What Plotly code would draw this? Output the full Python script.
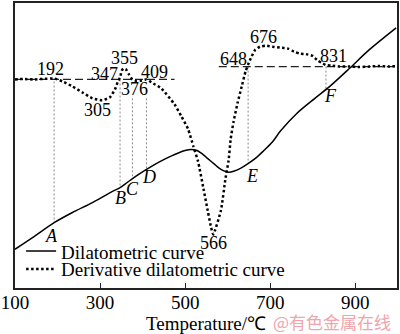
import numpy as np
import plotly.graph_objects as go

# Dilatometric curve: relative length change (arbitrary units) vs temperature (°C)
dil_temp = [100, 142, 193, 235, 282, 328, 347, 363, 382, 398, 421, 444, 468, 484,
            500, 514, 528, 537, 554, 568, 579, 591, 603, 614, 630, 647, 665, 684,
            705, 724, 763, 805, 840, 886, 933, 996]
dil_value = [39, 51, 66, 76, 86, 97, 101, 106, 112, 116.5, 122.5, 128, 133, 136,
             138.5, 139.5, 138.5, 136, 130, 125, 121, 118, 116.5, 117.5, 120.5, 125,
             130.5, 138, 147, 158, 176, 191, 203, 221, 240, 262]

# Derivative dilatometric curve (arbitrary units, offset)
der_temp = [100, 119, 142, 165, 192, 212, 235, 258, 282, 305, 323, 335, 342, 347,
            351, 355, 361, 368, 376, 386, 398, 409, 421, 444, 475, 491, 507, 519,
            530, 544, 553, 561, 566, 584, 595, 602, 607, 614, 623, 633, 642, 648,
            656, 665, 676, 689, 705, 724, 742, 756, 770, 784, 798, 812, 824, 831,
            845, 863, 886, 910, 933, 956, 979, 996]
der_value = [210, 210.5, 210, 210.5, 211, 208, 203, 197, 191, 189, 192, 200, 208, 212,
             219, 221, 220, 215, 210, 208.5, 209, 210, 207, 201, 185, 173, 160, 143,
             128, 98, 78, 61, 54, 78, 111, 128, 150, 168, 186, 203, 218, 225,
             233, 240, 243, 244, 243, 242, 241, 238, 236, 235.5, 234, 229, 226, 224.5,
             224, 223, 223, 222.5, 223, 223.5, 223, 223.5]

# Zero levels of the derivative curve
base_left_temp = [100, 475]
base_left_value = [210, 210]
base_right_temp = [579, 998]
base_right_value = [223, 223]

# Characteristic points on the dilatometric curve
point_temp = [192, 347, 376, 409, 648, 831]
point_name = ["A", "B", "C", "D", "E", "F"]
guide_top = [208, 210, 191, 191, 223, 223]

# Characteristic temperatures of the derivative curve
peak_temp = [192, 305, 347, 355, 376, 409, 566, 648, 676, 831]

# label placement: (xshift px, y in axis units)
peak_pos = [(-4, 221), (-5, 179), (-16, 216), (1.5, 232), (2.5, 200),
            (8, 218), (0.5, 45), (-14.5, 231), (3.5, 253), (7.7, 234)]
point_pos = [(-3, 52), (0, 91), (0.5, 100), (3, 112), (3.5, 113), (4.7, 193)]

SERIF = "Liberation Serif"

fig = go.Figure()

# vertical guides from the derivative curve down to the dilatometric curve
guide_bottom = np.interp(point_temp, dil_temp, dil_value)
for t, top, bot in zip(point_temp, guide_top, guide_bottom):
    fig.add_trace(go.Scatter(
        x=[t, t], y=[top, bot], mode="lines", showlegend=False, hoverinfo="skip",
        line=dict(color="#8a8a8a", width=1, dash="2px,2px")))

fig.add_trace(go.Scatter(
    x=base_left_temp, y=base_left_value, mode="lines", showlegend=False,
    line=dict(color="#222", width=1.3, dash="8px,4px")))
fig.add_trace(go.Scatter(
    x=base_right_temp, y=base_right_value, mode="lines", showlegend=False,
    line=dict(color="#222", width=1.3, dash="8px,4px")))

fig.add_trace(go.Scatter(
    x=dil_temp, y=dil_value, mode="lines", name="Dilatometric curve",
    line=dict(color="black", width=1.5, shape="spline", smoothing=0.8),
    legend="legend"))
fig.add_trace(go.Scatter(
    x=der_temp, y=der_value, mode="lines", name="Derivative dilatometric curve",
    line=dict(color="black", width=2.5, dash="2.5px,2.5px", shape="spline", smoothing=0.5),
    legend="legend2"))

for t, (dx, yv) in zip(peak_temp, peak_pos):
    fig.add_annotation(x=t, y=yv, text=str(t), showarrow=False, xshift=dx,
                       font=dict(family=SERIF, size=18, color="black"))

for t, name, (dx, yv) in zip(point_temp, point_name, point_pos):
    fig.add_annotation(x=t, y=yv, text="<i>%s</i>" % name, showarrow=False, xshift=dx,
                       font=dict(family=SERIF, size=18, color="black"))

# watermark
fig.add_annotation(xref="paper", yref="paper", x=0.99, y=-0.118, xanchor="right",
                   yanchor="middle", text="@有色金属在线", showarrow=False,
                   font=dict(family="Noto Sans CJK SC", size=17, color="#f0a4ab"))

legend_style = dict(bgcolor="rgba(0,0,0,0)", borderwidth=0, itemwidth=30,
                    font=dict(family=SERIF, size=19, color="black"),
                    xanchor="left", yanchor="middle", x=0.016)

fig.update_layout(
    width=400, height=334,
    margin=dict(l=12, r=2, t=1, b=46),
    paper_bgcolor="white", plot_bgcolor="white",
    showlegend=True,
    legend=dict(y=0.129, **legend_style),
    legend2=dict(y=0.066, **legend_style),
    xaxis=dict(range=[100, 998], tickvals=[100, 300, 500, 700, 900],
               ticks="inside", ticklen=5, tickwidth=1, tickcolor="#222",
               ticklabeloverflow="allow", ticklabelstandoff=-4,
               showline=True, linecolor="#222", linewidth=1.5, mirror=True,
               showgrid=False, zeroline=False,
               tickfont=dict(family=SERIF, size=19, color="black"),
               title=dict(text="Temperature/℃", standoff=7,
                          font=dict(family=SERIF, size=19, color="black"))),
    yaxis=dict(range=[0, 287], showticklabels=False, ticks="",
               showline=True, linecolor="#222", linewidth=1.5, mirror=True,
               showgrid=False, zeroline=False),
)

fig.write_html("out.html")
